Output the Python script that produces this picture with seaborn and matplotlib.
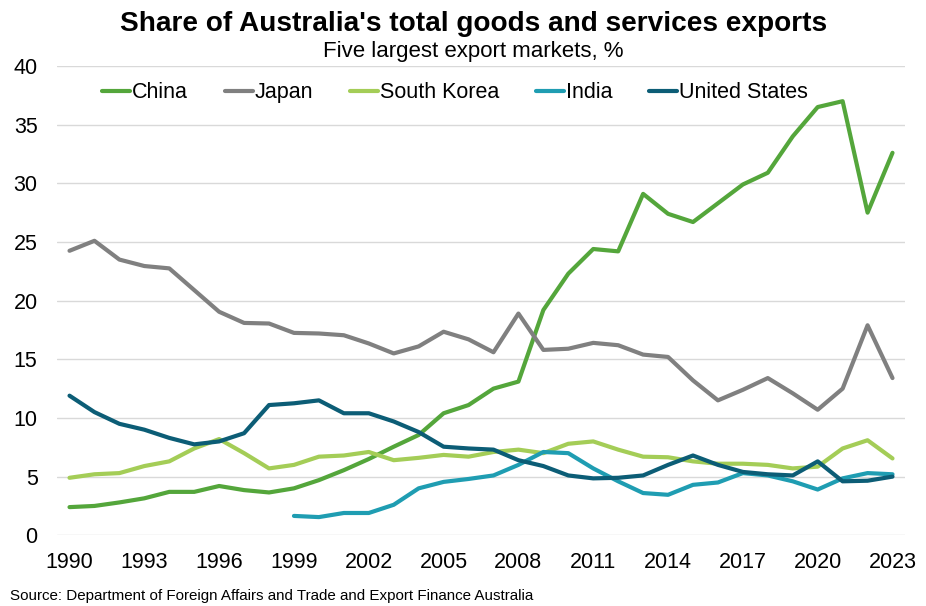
import numpy as np
import pandas as pd
import seaborn as sns
import matplotlib.pyplot as plt

years = list(range(1990, 2024))

china = [2.4, 2.5, 2.8, 3.15, 3.7, 3.7, 4.2, 3.85, 3.65, 4.0, 4.7, 5.55, 6.5, 7.55, 8.55, 10.4, 11.1,
         12.5, 13.1, 19.2, 22.3, 24.4, 24.2, 29.1, 27.4, 26.7, 28.3, 29.9, 30.9, 34.0, 36.5, 37.0, 27.5, 32.6]
japan = [24.25, 25.1, 23.5, 22.95, 22.75, 20.9, 19.05, 18.1, 18.05, 17.25, 17.2, 17.05, 16.35, 15.5, 16.1, 17.35, 16.7,
         15.6, 18.9, 15.8, 15.9, 16.4, 16.2, 15.4, 15.2, 13.2, 11.5, 12.4, 13.4, 12.1, 10.7, 12.5, 17.9, 13.4]
south_korea = [4.9, 5.2, 5.3, 5.9, 6.3, 7.4, 8.2, 7.0, 5.7, 6.0, 6.7, 6.8, 7.1, 6.4, 6.6, 6.85, 6.7,
               7.1, 7.3, 7.0, 7.8, 8.0, 7.3, 6.7, 6.65, 6.3, 6.1, 6.1, 6.0, 5.7, 5.85, 7.4, 8.1, 6.55]
india = [np.nan] * 9 + [1.65, 1.55, 1.9, 1.9, 2.6, 4.0, 4.55, 4.8,
                        5.1, 6.0, 7.1, 7.0, 5.7, 4.6, 3.6, 3.45, 4.3, 4.5, 5.3, 5.1, 4.6, 3.9, 4.85, 5.3, 5.2]
united_states = [11.9, 10.5, 9.5, 9.0, 8.3, 7.75, 8.0, 8.7, 11.1, 11.25, 11.5, 10.4, 10.4, 9.7, 8.8, 7.55, 7.4,
                 7.3, 6.4, 5.9, 5.1, 4.85, 4.9, 5.1, 6.0, 6.8, 6.0, 5.4, 5.2, 5.1, 6.3, 4.6, 4.65, 5.0]

markets = ["China", "Japan", "South Korea", "India", "United States"]
colours = ["#54a63b", "#808080", "#a4cd57", "#1f9db2", "#0c5d76"]
xticks = list(range(1990, 2024, 3))
yticks = list(range(0, 41, 5))

df = pd.DataFrame({"year": years, "China": china, "Japan": japan, "South Korea": south_korea,
                   "India": india, "United States": united_states})
long = df.melt(id_vars="year", var_name="market", value_name="share").dropna()

sns.set_theme(style="white")
plt.rcParams["font.family"] = ["Liberation Sans", "DejaVu Sans"]
plt.rcParams["text.color"] = "black"

fig = plt.figure(figsize=(9.26, 6.06), dpi=100)
ax = fig.add_axes([0.0616, 0.1167, 0.9157, 0.7744])

sns.lineplot(data=long, x="year", y="share", hue="market", hue_order=markets,
             palette=dict(zip(markets, colours)), linewidth=3, ax=ax,
             solid_joinstyle="round", solid_capstyle="round")

ax.set_xlim(1989.5, 2023.5)
ax.set_ylim(0, 40)
ax.set_xticks(xticks)
ax.set_yticks(yticks)
ax.set_xlabel("")
ax.set_ylabel("")
ax.grid(axis="y", color="#d9d9d9", linewidth=1)
ax.set_axisbelow(True)
for s in ax.spines.values():
    s.set_visible(False)
ax.tick_params(axis="x", length=0, pad=12, labelsize=15.5, colors="black")
ax.tick_params(axis="y", length=0, pad=14, labelsize=15.5, colors="black")

handles, labels = ax.get_legend_handles_labels()
ax.legend(handles, labels, ncol=5, loc="center left", bbox_to_anchor=(0.053, 0.9425),
          frameon=False, fontsize=15.5, handlelength=1.3, handletextpad=0.1,
          columnspacing=1.7, borderpad=0, borderaxespad=0, labelcolor="black")

fig.text(0.511, 0.949, "Share of Australia's total goods and services exports",
         ha="center", va="baseline", fontsize=20.2, fontweight="bold", color="black")
fig.text(0.511, 0.9054, "Five largest export markets, %", ha="center", va="baseline",
         fontsize=16, color="black")
fig.text(0.011, 0.0105, "Source: Department of Foreign Affairs and Trade and Export Finance Australia",
         ha="left", va="baseline", fontsize=10.9, color="black")

fig.savefig("out.png", dpi=100)
